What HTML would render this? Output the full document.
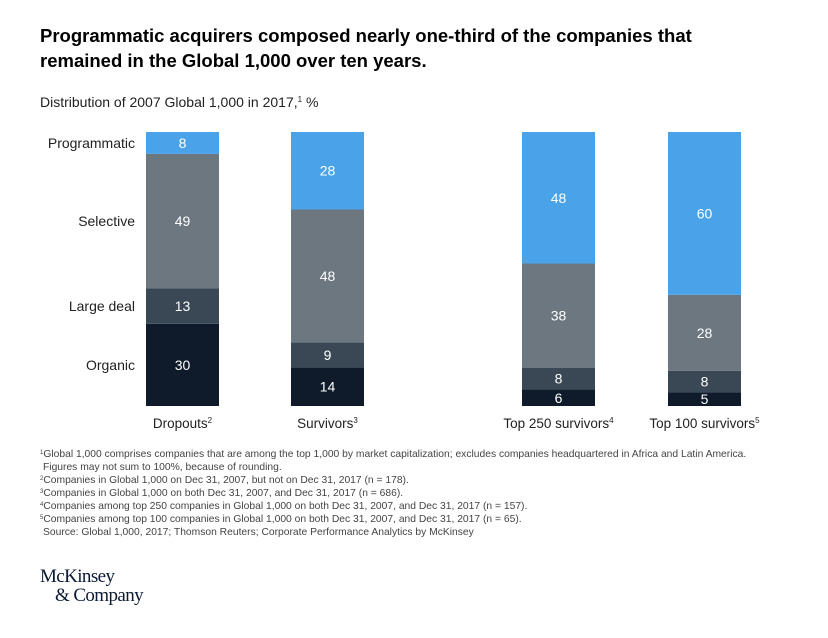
<!DOCTYPE html>
<html><head><meta charset="utf-8"><style>
body{margin:0;background:#fff;width:828px;height:633px;overflow:hidden;font-family:"Liberation Sans",Arial,sans-serif}
</style></head><body>
<svg width="828" height="633" xmlns="http://www.w3.org/2000/svg" font-family="Liberation Sans, Arial, sans-serif">
<text x="40" y="42" font-size="18.5" font-weight="bold" fill="#000">Programmatic acquirers composed nearly one-third of the companies that</text>
<text x="40" y="67" font-size="18.5" font-weight="bold" fill="#000">remained in the Global 1,000 over ten years.</text>
<text x="40" y="107" font-size="14" fill="#222">Distribution of 2007 Global 1,000 in 2017,<tspan font-size="8" dy="-5">1</tspan><tspan dy="5"> %</tspan></text>
<g id="bars"></g>
<g font-size="10.3" fill="#444">
<text x="40" y="457"><tspan font-size="6" dy="-3">1</tspan><tspan dy="3">Global 1,000 comprises companies that are among the top 1,000 by market capitalization; excludes companies headquartered in Africa and Latin America.</tspan></text>
<text x="43" y="470">Figures may not sum to 100%, because of rounding.</text>
<text x="40" y="483"><tspan font-size="6" dy="-3">2</tspan><tspan dy="3">Companies in Global 1,000 on Dec 31, 2007, but not on Dec 31, 2017 (n = 178).</tspan></text>
<text x="40" y="496"><tspan font-size="6" dy="-3">3</tspan><tspan dy="3">Companies in Global 1,000 on both Dec 31, 2007, and Dec 31, 2017 (n = 686).</tspan></text>
<text x="40" y="509"><tspan font-size="6" dy="-3">4</tspan><tspan dy="3">Companies among top 250 companies in Global 1,000 on both Dec 31, 2007, and Dec 31, 2017 (n = 157).</tspan></text>
<text x="40" y="522"><tspan font-size="6" dy="-3">5</tspan><tspan dy="3">Companies among top 100 companies in Global 1,000 on both Dec 31, 2007, and Dec 31, 2017 (n = 65).</tspan></text>
<text x="43" y="535">Source: Global 1,000, 2017; Thomson Reuters; Corporate Performance Analytics by McKinsey</text>
</g>
<g font-family="Liberation Serif, serif" font-size="19" fill="#0a1a33">
<text x="40" y="582" letter-spacing="-0.6">McKinsey</text>
<text x="55" y="601" letter-spacing="-0.6">&amp; Company</text>
</g>
</svg>
<script>
const categories=["Dropouts","Survivors","Top 250 survivors","Top 100 survivors"];
const footnoteNums=["2","3","4","5"];
const seriesNames=["Programmatic","Selective","Large deal","Organic"];
const programmatic=[8,28,48,60];
const selective=[49,48,38,28];
const largeDeal=[13,9,8,8];
const organic=[30,14,6,5];
const colors=["#4aa3e8","#6c7780","#3a4855","#0f1b2b"];
const xLeft=[146,291,522,668], bw=73, yTop=132, yBottom=406;
const ns="http://www.w3.org/2000/svg";
const g=document.getElementById("bars");
const series=[programmatic,selective,largeDeal,organic];
function yScale(v,total){return yBottom-(v/total)*(yBottom-yTop);}
categories.forEach((c,i)=>{
  const total=series.reduce((s,a)=>s+a[i],0);
  let cum=0;
  for(let k=series.length-1;k>=0;k--){
    const v=series[k][i];
    const y0=yScale(cum,total),y1=yScale(cum+v,total);cum+=v;
    const r=document.createElementNS(ns,"rect");
    r.setAttribute("x",xLeft[i]);r.setAttribute("y",y1);r.setAttribute("width",bw);r.setAttribute("height",y0-y1);r.setAttribute("fill",colors[k]);
    
    
    g.appendChild(r);
    const t=document.createElementNS(ns,"text");
    t.setAttribute("x",xLeft[i]+bw/2);t.setAttribute("y",(y0+y1)/2+5);t.setAttribute("text-anchor","middle");t.setAttribute("font-size","14");t.setAttribute("fill","#fff");
    t.textContent=v;
    
    
    g.appendChild(t);
    if(i===0){
      const l=document.createElementNS(ns,"text");
      l.setAttribute("x",135);l.setAttribute("y",(y0+y1)/2+5);l.setAttribute("text-anchor","end");l.setAttribute("font-size","14");l.setAttribute("fill","#222");
      l.textContent=seriesNames[k];
      
      
      g.appendChild(l);
    }
  }
  const cl=document.createElementNS(ns,"text");
  cl.setAttribute("x",xLeft[i]+bw/2);cl.setAttribute("y",428);cl.setAttribute("text-anchor","middle");cl.setAttribute("font-size","13.5");cl.setAttribute("fill","#222");
  cl.textContent=c;
  const sup=document.createElementNS(ns,"tspan");
  sup.setAttribute("font-size","8");sup.setAttribute("dy","-5");
  sup.textContent=footnoteNums[i];
  
  
  cl.appendChild(sup);
  
  
  g.appendChild(cl);
});
</script>
</body></html>
